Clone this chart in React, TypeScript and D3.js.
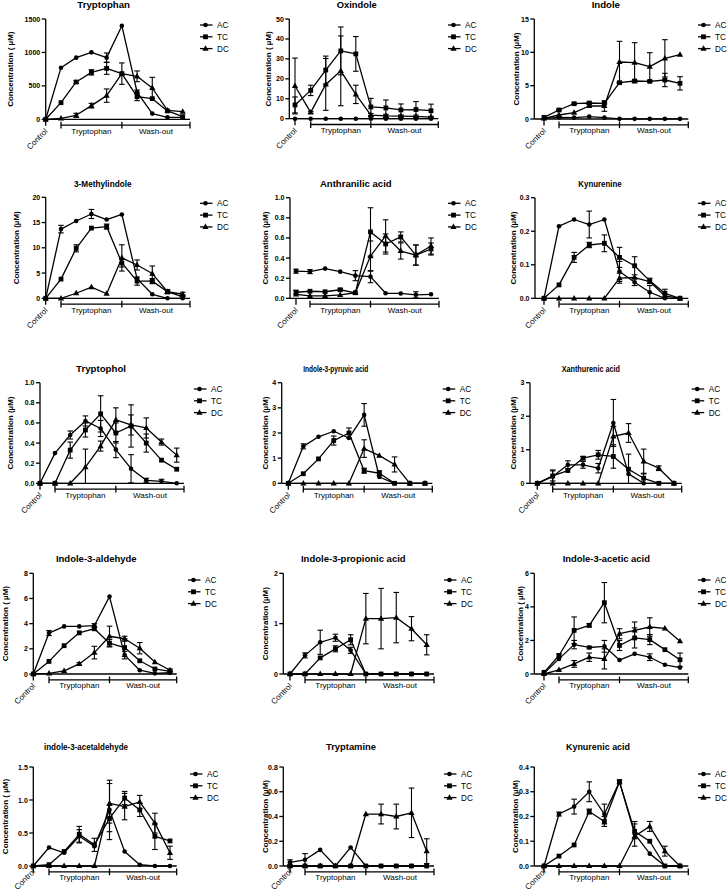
import React from 'react';
import * as d3 from 'd3';

// ---------- categories / labels ----------
const seriesNames = ['AC', 'TC', 'DC'];
const groupLabels = ['Tryptophan', 'Wash-out'];
const controlLabel = 'Control';

const titles = [
  'Tryptophan', 'Oxindole', 'Indole',
  '3-Methylindole', 'Anthranilic acid', 'Kynurenine',
  'Tryptophol', 'Indole-3-pyruvic acid', 'Xanthurenic acid',
  'Indole-3-aldehyde', 'Indole-3-propionic acid', 'Indole-3-acetic acid',
  'indole-3-acetaldehyde', 'Tryptamine', 'Kynurenic acid',
];

const yLabels = [
  'Concentration ( µM)', 'Concentration ( µM)', 'Concentration (µM)',
  'Concentration (µM)', 'Concentration (µM)', 'Concentration (µM)',
  'Concentration (µM)', 'Concentration (µM)', 'Concentration (µM)',
  'Concentration ( µM)', 'Concentration (µM)', 'Concentration ( µM)',
  'Concentration ( µM)', 'Concentration (µM)', 'Concentration (µM)',
];

const yTicks = [
  [0, 500, 1000, 1500], [0, 10, 20, 30, 40, 50], [0, 5, 10, 15],
  [0, 5, 10, 15, 20], [0, 0.2, 0.4, 0.6, 0.8, 1.0], [0, 0.1, 0.2, 0.3],
  [0, 0.2, 0.4, 0.6, 0.8, 1.0], [0, 1, 2, 3, 4], [0, 1, 2, 3],
  [0, 2, 4, 6, 8], [0, 1, 2], [0, 2, 4, 6],
  [0, 0.5, 1.0, 1.5], [0, 0.2, 0.4, 0.6, 0.8], [0, 0.1, 0.2, 0.3, 0.4],
];

const tickFormats = ['d', 'd', 'd', 'd', '.1f', '.1f', '.1f', 'd', 'd', 'd', 'd', 'd', '.1f', '.1f', '.1f'];

// ---------- data: [AC, TC, DC] means and SEM, index 0 = Control, 1-5 Tryptophan, 6-9 Wash-out ----------
const tryptophanMean = [
  [0, 772, 922, 1001, 922, 1400, 408, 85, 30, 30],
  [0, 249, 558, 702, 762, 683, 339, 309, 125, 40],
  [0, 15, 60, 204, 354, 683, 643, 468, 134, 115],
];
const tryptophanSem = [
  [0, 0, 0, 0, 70, 0, 30, 0, 0, 0],
  [0, 0, 20, 40, 90, 160, 60, 0, 0, 0],
  [0, 0, 30, 35, 100, 0, 80, 160, 0, 0],
];

const oxindoleMean = [
  [0, 0, 0, 0, 0, 0, 0, 0, 0, 0],
  [6.9, 14.2, 24.4, 34, 32.5, 5.9, 5.4, 4.4, 4.6, 4.0],
  [16.4, 3.2, 17.2, 24, 12.2, 1.8, 1.4, 1.3, 1.2, 0.8],
];
const oxindoleSem = [
  [0, 0, 0, 0, 0, 0, 0, 0, 0, 0],
  [4, 2.6, 7, 12, 8.7, 4.3, 4, 3, 4, 3.3],
  [14, 0.5, 13, 17.5, 4.6, 0.8, 0.8, 0.6, 0.6, 0.4],
];

const indoleMean = [
  [0.1, 0.25, 0.2, 0.35, 0.2, 0.02, 0.02, 0.02, 0.02, 0.02],
  [0.25, 1.35, 2.3, 2.4, 2.35, 5.45, 5.7, 5.65, 5.85, 5.35],
  [0.1, 0.6, 0.95, 1.95, 1.95, 8.55, 8.45, 7.85, 9.1, 9.65],
];
const indoleSem = [
  [0, 0, 0, 0, 0, 0, 0, 0, 0, 0],
  [0, 0.1, 0.1, 0.1, 0.1, 0.1, 0.15, 0.1, 1.0, 1.0],
  [0, 0, 0, 0.2, 0.8, 3.1, 3.0, 2.1, 2.8, 0],
];

const methylindoleMean = [
  [0, 13.7, 15.3, 16.7, 15.6, 16.6, 3.9, 0.8, 0, 0],
  [0, 3.8, 9.9, 13.9, 14.2, 7.0, 3.4, 3.4, 1.3, 0.3],
  [0, 0, 1.0, 2.2, 0.9, 8.0, 6.6, 4.9, 1.3, 0.8],
];
const methylindoleSem = [
  [0, 0.75, 0, 0.9, 0, 0, 0, 0, 0, 0],
  [0, 0, 0.7, 0, 0.5, 0.8, 0.8, 0.5, 0.3, 0.3],
  [0, 0, 0, 0, 0, 2.6, 1.0, 1.5, 0.4, 0.4],
];

const anthranilicMean = [
  [0.27, 0.265, 0.295, 0.265, 0.225, 0.215, 0.05, 0.048, 0.035, 0.04],
  [0.06, 0.07, 0.065, 0.085, 0.055, 0.66, 0.54, 0.61, 0.43, 0.49],
  [0.04, 0.025, 0.025, 0.035, 0.055, 0.42, 0.62, 0.47, 0.43, 0.52],
];
const anthranilicSem = [
  [0.02, 0.02, 0, 0, 0.05, 0.06, 0, 0, 0.03, 0],
  [0.02, 0, 0, 0.01, 0, 0.24, 0.1, 0.05, 0.1, 0.06],
  [0, 0, 0, 0, 0, 0.15, 0.16, 0.08, 0.1, 0.08],
];

const kynurenineMean = [
  [0, 0.215, 0.235, 0.22, 0.235, 0.08, 0.048, 0.018, 0, 0],
  [0, 0.04, 0.122, 0.159, 0.164, 0.122, 0.097, 0.052, 0.015, 0],
  [0, 0, 0, 0, 0, 0.06, 0.062, 0.05, 0.007, 0],
];
const kynurenineSem = [
  [0, 0, 0, 0.04, 0, 0.03, 0.01, 0.02, 0, 0],
  [0, 0, 0.015, 0.008, 0.025, 0.03, 0.027, 0.008, 0.012, 0],
  [0, 0, 0, 0, 0, 0.015, 0, 0, 0, 0],
];

const tryptopholMean = [
  [0, 0.30, 0.48, 0.62, 0.545, 0.335, 0.145, 0.03, 0.02, 0],
  [0, 0, 0.33, 0.53, 0.69, 0.5, 0.57, 0.40, 0.23, 0.14],
  [0, 0, 0, 0.16, 0.37, 0.63, 0.58, 0.55, 0.41, 0.28],
];
const tryptopholSem = [
  [0, 0, 0.04, 0.05, 0.08, 0.08, 0.14, 0.02, 0.02, 0],
  [0, 0, 0.08, 0.07, 0.18, 0.1, 0.21, 0.09, 0, 0],
  [0, 0, 0, 0.18, 0.05, 0.12, 0.1, 0.1, 0.03, 0.07],
];

const pyruvicMean = [
  [0, 1.47, 1.85, 2.07, 1.8, 2.72, 0.25, 0, 0, 0],
  [0, 0.38, 0.97, 1.7, 2.0, 0.5, 0.4, 0, 0, 0],
  [0, 0, 0, 0, 0, 1.38, 1.1, 0.75, 0, 0],
];
const pyruvicSem = [
  [0, 0.1, 0, 0, 0, 0.45, 0, 0, 0, 0],
  [0, 0, 0, 0.18, 0.2, 0.1, 0.1, 0, 0, 0],
  [0, 0, 0, 0, 0, 0.35, 0, 0.3, 0, 0],
];

const xanthurenicMean = [
  [0, 0.2, 0.55, 0.55, 0.45, 1.8, 0.28, 0, 0, 0],
  [0, 0.22, 0.38, 0.75, 0.85, 0.8, 0.42, 0.15, 0, 0],
  [0, 0, 0, 0, 0, 1.4, 1.5, 0.65, 0.45, 0],
];
const xanthurenicSem = [
  [0, 0.2, 0.12, 0.1, 0.14, 0.7, 0, 0, 0, 0],
  [0, 0.15, 0, 0.05, 0.13, 0.35, 0.45, 0.15, 0, 0],
  [0, 0, 0, 0, 0, 0.3, 0.28, 0.37, 0.07, 0],
];

const aldehydeMean = [
  [0, 3.25, 3.78, 3.78, 3.85, 6.15, 1.5, 0.3, 0.05, 0.1],
  [0, 1.0, 2.25, 3.27, 3.6, 2.45, 2.1, 1.05, 0.4, 0.2],
  [0, 0.05, 0.25, 0.8, 1.7, 3.0, 2.8, 2.05, 0.95, 0.3],
];
const aldehydeSem = [
  [0, 0.2, 0, 0, 0.15, 0, 0.3, 0, 0, 0],
  [0, 0, 0, 0, 0.15, 0.3, 0.7, 0, 0, 0],
  [0, 0, 0, 0.1, 0.5, 0.8, 0.2, 0.45, 0, 0.1],
];

const propionicMean = [
  [0, 0.37, 0.63, 0.72, 0.47, 0, 0, 0, 0, 0],
  [0, 0, 0.32, 0.5, 0.68, 0, 0, 0, 0, 0],
  [0, 0, 0, 0, 0, 1.1, 1.1, 1.12, 0.9, 0.58],
];
const propionicSem = [
  [0, 0.05, 0.24, 0.07, 0.06, 0, 0, 0, 0, 0],
  [0, 0, 0, 0.06, 0.1, 0, 0, 0, 0, 0],
  [0, 0, 0, 0, 0, 0.5, 0.6, 0.5, 0.24, 0.2],
];

const aceticMean = [
  [0.05, 0.9, 1.75, 1.58, 1.65, 0.83, 1.2, 1.0, 0.55, 0.38],
  [0.1, 1.1, 2.6, 2.9, 4.25, 1.7, 2.15, 2.05, 1.45, 0.85],
  [0, 0.25, 0.6, 1.0, 0.9, 2.4, 2.6, 2.8, 2.72, 1.95],
];
const aceticSem = [
  [0, 0, 0.25, 0.08, 0.35, 0, 0, 0.2, 0, 0],
  [0, 0.1, 0.8, 0.1, 1.2, 0.3, 0.6, 0.3, 0, 0.4],
  [0, 0, 0.2, 0.25, 0.6, 0.3, 0.5, 0.55, 0, 0],
];

const acetaldehydeMean = [
  [0, 0.28, 0.2, 0.45, 0.3, 0.85, 0.22, 0.02, 0, 0],
  [0, 0.02, 0.22, 0.48, 0.32, 0.72, 1.03, 0.85, 0.45, 0.38],
  [0, 0, 0, 0, 0, 0.95, 0.9, 0.97, 0.65, 0.2],
];
const acetaldehydeSem = [
  [0, 0, 0, 0.1, 0, 0.45, 0, 0, 0, 0],
  [0, 0, 0, 0.12, 0.1, 0.2, 0.1, 0.1, 0.2, 0],
  [0, 0, 0, 0, 0, 0.3, 0.2, 0.1, 0.15, 0.1],
];

const tryptamineMean = [
  [0.03, 0.05, 0.13, 0, 0.15, 0, 0, 0, 0, 0],
  [0, 0, 0, 0, 0, 0, 0, 0, 0, 0],
  [0, 0, 0, 0, 0, 0.42, 0.42, 0.40, 0.43, 0.12],
];
const tryptamineSem = [
  [0.02, 0.05, 0, 0, 0, 0, 0, 0, 0, 0],
  [0, 0, 0, 0, 0, 0, 0, 0, 0, 0],
  [0, 0, 0, 0, 0, 0, 0.08, 0.1, 0.2, 0.1],
];

const kynurenicMean = [
  [0, 0.21, 0.24, 0.30, 0.21, 0.34, 0.13, 0.05, 0, 0],
  [0, 0.04, 0.085, 0.22, 0.18, 0.34, 0.14, 0.10, 0, 0],
  [0, 0, 0, 0, 0, 0, 0.12, 0.16, 0.06, 0],
];
const kynurenicSem = [
  [0, 0.008, 0.03, 0.04, 0.04, 0.008, 0.05, 0, 0, 0],
  [0, 0, 0, 0.01, 0.02, 0, 0.03, 0, 0, 0],
  [0, 0, 0, 0, 0, 0, 0, 0.02, 0.02, 0],
];

const means = [
  tryptophanMean, oxindoleMean, indoleMean,
  methylindoleMean, anthranilicMean, kynurenineMean,
  tryptopholMean, pyruvicMean, xanthurenicMean,
  aldehydeMean, propionicMean, aceticMean,
  acetaldehydeMean, tryptamineMean, kynurenicMean,
];
const sems = [
  tryptophanSem, oxindoleSem, indoleSem,
  methylindoleSem, anthranilicSem, kynurenineSem,
  tryptopholSem, pyruvicSem, xanthurenicSem,
  aldehydeSem, propionicSem, aceticSem,
  acetaldehydeSem, tryptamineSem, kynurenicSem,
];

// ---------- layout (pixel geometry of each small graph) ----------
const layout = [
  { ax: 45.7, xc: 45.7, x1: 61, x9: 182.7, xEnd: 190, yTop: 19, y0: 119.3, tx: 103.7, tw: 52.7, ts: 9.5, ty: 8, lx: 200, ly: 25, yl: 10, cy: 12.5 },
  { ax: 289.3, xc: 295, x1: 310.7, x9: 431, xEnd: 438.3, yTop: 19, y0: 118.7, tx: 356.7, tw: 40, ts: 9.3, ty: 8, lx: 448, ly: 25, yl: 268.3, cy: 12.5 },
  { ax: 534.3, xc: 544, x1: 559, x9: 680, xEnd: 688.3, yTop: 19, y0: 119, tx: 605.8, tw: 28.3, ts: 9.5, ty: 8, lx: 698, ly: 25, yl: 516, cy: 12.5 },
  { ax: 45.7, xc: 45.7, x1: 61, x9: 182.7, xEnd: 190, yTop: 197.3, y0: 298.3, tx: 102.8, tw: 57.7, ts: 8.8, ty: 186.5, lx: 200, ly: 203.3, yl: 16.7, cy: 12.5 },
  { ax: 290, xc: 296, x1: 310, x9: 431, xEnd: 439, yTop: 197.7, y0: 298.3, tx: 355.8, tw: 71.7, ts: 9.5, ty: 186.5, lx: 448, ly: 203.3, yl: 265, cy: 12.5 },
  { ax: 535, xc: 544, x1: 559, x9: 680, xEnd: 688.3, yTop: 197.7, y0: 298.3, tx: 600, tw: 43.3, ts: 8.8, ty: 186.5, lx: 698, ly: 203.3, yl: 513.3, cy: 12.5 },
  { ax: 40, xc: 40, x1: 55, x9: 176.7, xEnd: 184, yTop: 382.7, y0: 483.3, tx: 101, tw: 50, ts: 9.5, ty: 371.5, lx: 194, ly: 389, yl: 10, cy: 12.5 },
  { ax: 281.7, xc: 288.3, x1: 303.3, x9: 425, xEnd: 432.3, yTop: 382.7, y0: 483.3, tx: 335.8, tw: 65, ts: 8.5, ty: 371.5, lx: 442.7, ly: 389, yl: 265, cy: 12.5 },
  { ax: 530, xc: 537.3, x1: 552.7, x9: 674, xEnd: 681.7, yTop: 382.7, y0: 483.3, tx: 590.8, tw: 58.3, ts: 8.5, ty: 371.5, lx: 691.7, ly: 389, yl: 513.3, cy: 12.5 },
  { ax: 33.3, xc: 33.3, x1: 49, x9: 170, xEnd: 176.7, yTop: 573.3, y0: 674, tx: 96.3, tw: 80.7, ts: 9.2, ty: 561.5, lx: 188, ly: 580, yl: 5, cy: 12.5 },
  { ax: 283.3, xc: 290, x1: 305, x9: 426.7, xEnd: 434, yTop: 573.3, y0: 674, tx: 353.3, tw: 104.7, ts: 9.5, ty: 561.5, lx: 444, ly: 580, yl: 265, cy: 12.5 },
  { ax: 534.3, xc: 544, x1: 559, x9: 680, xEnd: 688.3, yTop: 573.3, y0: 674, tx: 606.3, tw: 87.3, ts: 9.3, ty: 561.5, lx: 698, ly: 580, yl: 520, cy: 12.5 },
  { ax: 33.3, xc: 33.3, x1: 49, x9: 170, xEnd: 176.7, yTop: 767, y0: 866, tx: 86, tw: 84, ts: 8.6, ty: 750, lx: 190, ly: 774, yl: 5, cy: 6 },
  { ax: 283.3, xc: 290, x1: 305, x9: 426.7, xEnd: 434, yTop: 767, y0: 866, tx: 351, tw: 50, ts: 9.3, ty: 750, lx: 444, ly: 774, yl: 265, cy: 6 },
  { ax: 534.3, xc: 544, x1: 559, x9: 680, xEnd: 688.3, yTop: 767, y0: 866, tx: 598, tw: 64, ts: 9, ty: 750, lx: 698, ly: 774, yl: 515, cy: 6 },
];

const FONT = '"Liberation Sans", Arial, Helvetica, sans-serif';
const SW = 1.3;

function Marker({ kind, x, y }: { kind: number; x: number; y: number }) {
  if (kind === 0) return <circle cx={x} cy={y} r={2.3} fill="#000" />;
  if (kind === 1) return <rect x={x - 2.4} y={y - 2.4} width={4.8} height={4.8} fill="#000" />;
  return <path d={`M${x},${y - 3.4}L${x + 3.1},${y + 2.1}L${x - 3.1},${y + 2.1}Z`} fill="#000" />;
}

function Panel({ idx }: { idx: number }) {
  const L = layout[idx];
  const ticks = yTicks[idx];
  const yMax = ticks[ticks.length - 1];
  const x = d3.scaleLinear().domain([0, 1, 9]).range([L.xc, L.x1, L.x9]);
  const y = d3.scaleLinear().domain([0, yMax]).range([L.y0, L.yTop]).clamp(true);
  const fmt = d3.format(tickFormats[idx]);
  const line = d3.line<number>().x((_, i) => x(i)).y((d) => y(d));
  const data = means[idx];
  const err = sems[idx];
  const x5 = x(5);
  const yMid = (L.y0 + L.yTop) / 2;

  return (
    <g>
      <text x={L.tx} y={L.ty} textAnchor="middle" fontFamily={FONT} fontWeight="bold" fontSize={L.ts}
        textLength={L.tw} lengthAdjust="spacingAndGlyphs" fill="#000">{titles[idx]}</text>
      {/* y axis */}
      <line x1={L.ax} x2={L.ax} y1={L.yTop} y2={L.y0} stroke="#000" strokeWidth={SW} />
      {ticks.map((t) => (
        <g key={t}>
          <line x1={L.ax - 4} x2={L.ax} y1={y(t)} y2={y(t)} stroke="#000" strokeWidth={SW} />
          <text x={L.ax - 5.5} y={y(t) + 2.5} textAnchor="end" fontFamily={FONT} fontWeight="bold" fontSize={7}>{fmt(t)}</text>
        </g>
      ))}
      <text transform={`translate(${L.yl},${yMid}) rotate(-90)`} textAnchor="middle" dominantBaseline="central"
        fontFamily={FONT} fontWeight="bold" fontSize={8}>{yLabels[idx]}</text>
      {/* x axis */}
      <line x1={L.ax} x2={L.xEnd} y1={L.y0} y2={L.y0} stroke="#000" strokeWidth={SW} />
      <line x1={L.xc} x2={L.xc} y1={L.y0} y2={L.y0 + 6.5} stroke="#000" strokeWidth={SW} />
      <line x1={L.x1} x2={L.xEnd} y1={L.y0 + 5.8} y2={L.y0 + 5.8} stroke="#000" strokeWidth={SW} />
      {[L.x1, x5, L.xEnd].map((bx, i) => (
        <line key={i} x1={bx} x2={bx} y1={L.y0 + 2.5} y2={L.y0 + 9.2} stroke="#000" strokeWidth={SW} />
      ))}
      <text x={(L.x1 + x5) / 2} y={L.y0 + 14.3} textAnchor="middle" fontFamily={FONT} fontSize={8}>{groupLabels[0]}</text>
      <text x={(x5 + L.xEnd) / 2} y={L.y0 + 14.3} textAnchor="middle" fontFamily={FONT} fontSize={8}>{groupLabels[1]}</text>
      <text transform={`translate(${L.xc + 2.5},${L.y0 + L.cy}) rotate(-45)`} textAnchor="end" fontFamily={FONT} fontSize={8}>{controlLabel}</text>
      {/* error bars */}
      {data.map((s, si) => s.map((v, i) => {
        const e = err[si][i];
        if (!e) return null;
        const cx = x(i);
        const yh = y(v + e), yl = y(v - e);
        return (
          <g key={`e${si}-${i}`} stroke="#000" strokeWidth={1.1}>
            <line x1={cx} x2={cx} y1={yh} y2={yl} />
            <line x1={cx - 2.8} x2={cx + 2.8} y1={yh} y2={yh} />
            {v - e > 0 && <line x1={cx - 2.8} x2={cx + 2.8} y1={yl} y2={yl} />}
          </g>
        );
      }))}
      {/* lines and markers */}
      {data.map((s, si) => (
        <g key={`s${si}`}>
          <path d={line(s) || ''} fill="none" stroke="#000" strokeWidth={SW} strokeLinejoin="round" />
          {s.map((v, i) => <Marker key={i} kind={si} x={x(i)} y={y(v)} />)}
        </g>
      ))}
      {/* legend */}
      {seriesNames.map((n, si) => {
        const ly = L.ly + si * 11.8;
        return (
          <g key={n}>
            <line x1={L.lx} x2={L.lx + 12.5} y1={ly} y2={ly} stroke="#000" strokeWidth={SW} />
            <Marker kind={si} x={L.lx + 5.5} y={ly} />
            <text x={L.lx + 17} y={ly + 3} fontFamily={FONT} fontSize={8.2}>{n}</text>
          </g>
        );
      })}
    </g>
  );
}

export default function App() {
  return (
    <svg width={727} height={892} style={{ position: 'absolute', left: 0, top: 0, background: '#fff' }}>
      <rect width={727} height={892} fill="#fff" />
      {titles.map((_, i) => <Panel key={i} idx={i} />)}
    </svg>
  );
}
